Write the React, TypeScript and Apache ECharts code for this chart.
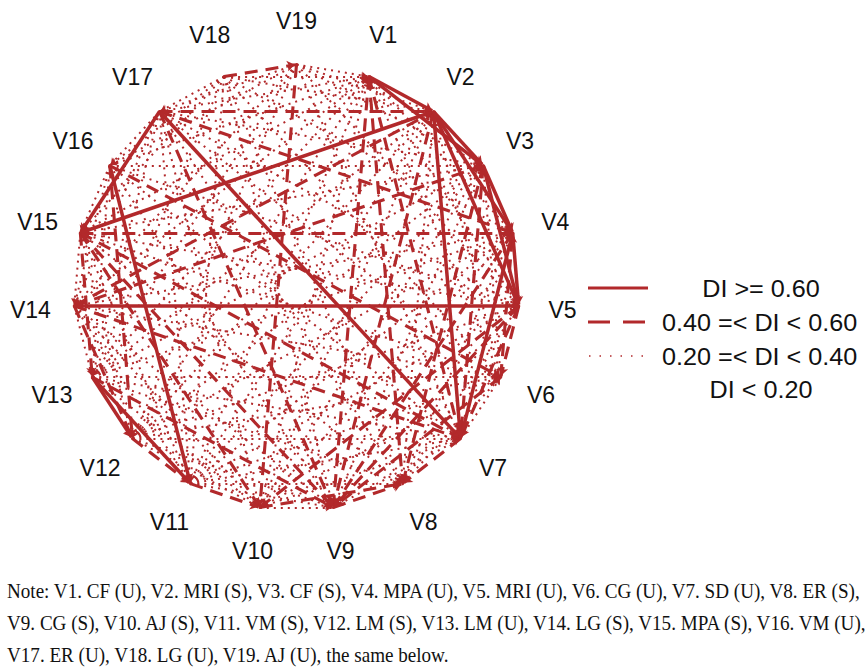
import React, { useEffect, useRef } from "react";
import * as echarts from "echarts";

const nodeNames = [
  "V1", "V2", "V3", "V4", "V5", "V6", "V7", "V8", "V9", "V10",
  "V11", "V12", "V13", "V14", "V15", "V16", "V17", "V18", "V19",
];

// DI >= 0.60
const strongLinks: [string, string, number][] = [
  ["V1", "V2", 0.72], ["V2", "V3", 0.68], ["V2", "V4", 0.75], ["V2", "V5", 0.66],
  ["V3", "V4", 0.7], ["V3", "V5", 0.64], ["V4", "V5", 0.71], ["V2", "V7", 0.65],
  ["V4", "V7", 0.62], ["V5", "V14", 0.63], ["V15", "V2", 0.61], ["V17", "V15", 0.69],
  ["V17", "V7", 0.67], ["V16", "V11", 0.64], ["V13", "V11", 0.73], ["V13", "V12", 0.7],
  ["V1", "V3", 0.62],
];

// 0.40 =< DI < 0.60
const mediumLinks: [string, string, number][] = [
  ["V17", "V2", 0.52], ["V15", "V4", 0.55], ["V18", "V19", 0.48], ["V19", "V10", 0.45],
  ["V14", "V2", 0.5], ["V16", "V6", 0.47], ["V15", "V7", 0.44], ["V14", "V7", 0.46],
  ["V17", "V9", 0.53], ["V17", "V4", 0.49], ["V12", "V11", 0.51], ["V11", "V10", 0.47],
  ["V1", "V8", 0.43], ["V9", "V8", 0.45], ["V7", "V8", 0.5], ["V5", "V9", 0.42],
  ["V4", "V9", 0.48], ["V1", "V9", 0.44], ["V5", "V10", 0.41], ["V15", "V9", 0.46],
  ["V15", "V13", 0.43], ["V16", "V12", 0.45], ["V14", "V12", 0.42], ["V5", "V7", 0.55],
  ["V3", "V7", 0.47], ["V6", "V4", 0.44], ["V1", "V7", 0.42], ["V15", "V10", 0.41],
  ["V3", "V8", 0.43], ["V2", "V9", 0.41], ["V13", "V9", 0.42], ["V10", "V8", 0.44],
  ["V14", "V3", 0.43], ["V6", "V9", 0.45], ["V5", "V6", 0.48],
];

// 0.20 =< DI < 0.40
const weakLinks: [string, string, number][] = [
  ["V19", "V1", 0.3], ["V19", "V2", 0.25], ["V19", "V3", 0.28], ["V19", "V5", 0.22],
  ["V19", "V7", 0.26], ["V19", "V12", 0.24], ["V19", "V14", 0.21], ["V19", "V16", 0.27],
  ["V19", "V17", 0.33], ["V19", "V13", 0.23],
  ["V18", "V1", 0.31], ["V18", "V2", 0.29], ["V18", "V4", 0.25], ["V18", "V6", 0.22],
  ["V18", "V8", 0.24], ["V18", "V11", 0.21], ["V18", "V13", 0.26], ["V18", "V15", 0.28],
  ["V18", "V16", 0.3], ["V18", "V17", 0.34], ["V18", "V9", 0.23],
  ["V17", "V1", 0.27], ["V17", "V3", 0.29], ["V17", "V5", 0.3], ["V17", "V6", 0.25],
  ["V17", "V8", 0.22], ["V17", "V11", 0.26], ["V17", "V13", 0.24], ["V17", "V14", 0.28],
  ["V17", "V16", 0.35], ["V17", "V10", 0.23],
  ["V16", "V1", 0.24], ["V16", "V3", 0.31], ["V16", "V5", 0.26], ["V16", "V7", 0.22],
  ["V16", "V9", 0.25], ["V16", "V13", 0.27], ["V16", "V14", 0.33], ["V16", "V15", 0.36],
  ["V15", "V1", 0.26], ["V15", "V3", 0.3], ["V15", "V5", 0.24], ["V15", "V6", 0.22],
  ["V15", "V8", 0.27], ["V15", "V11", 0.25], ["V15", "V12", 0.29], ["V15", "V14", 0.34],
  ["V14", "V1", 0.23], ["V14", "V4", 0.28], ["V14", "V6", 0.25], ["V14", "V9", 0.3],
  ["V14", "V10", 0.27], ["V14", "V11", 0.26], ["V14", "V13", 0.32],
  ["V13", "V1", 0.22], ["V13", "V2", 0.25], ["V13", "V3", 0.24], ["V13", "V4", 0.27],
  ["V13", "V6", 0.31], ["V13", "V7", 0.26], ["V13", "V8", 0.28], ["V13", "V10", 0.29],
  ["V12", "V1", 0.21], ["V12", "V2", 0.24], ["V12", "V3", 0.23], ["V12", "V4", 0.26],
  ["V12", "V5", 0.25], ["V12", "V6", 0.27], ["V12", "V7", 0.28], ["V12", "V9", 0.3],
  ["V12", "V10", 0.29],
  ["V11", "V1", 0.22], ["V11", "V2", 0.26], ["V11", "V3", 0.24], ["V11", "V4", 0.25],
  ["V11", "V5", 0.27], ["V11", "V6", 0.23], ["V11", "V7", 0.28], ["V11", "V8", 0.3],
  ["V11", "V9", 0.32],
  ["V10", "V1", 0.24], ["V10", "V2", 0.23], ["V10", "V3", 0.25], ["V10", "V4", 0.27],
  ["V10", "V6", 0.26], ["V10", "V7", 0.29], ["V10", "V9", 0.33],
  ["V9", "V3", 0.26], ["V9", "V7", 0.3],
  ["V8", "V2", 0.25], ["V8", "V4", 0.27], ["V8", "V5", 0.29], ["V8", "V6", 0.31],
  ["V7", "V6", 0.34], ["V6", "V1", 0.23], ["V6", "V2", 0.26], ["V6", "V3", 0.28],
  ["V5", "V1", 0.27], ["V4", "V1", 0.3],
];

const legendLabels = ["DI >= 0.60", "0.40 =< DI < 0.60", "0.20 =< DI < 0.40", "DI < 0.20"];

const noteLines = [
  "Note: V1. CF (U), V2. MRI (S), V3. CF (S), V4. MPA (U), V5. MRI (U), V6. CG (U), V7. SD (U), V8. ER (S),",
  "V9. CG (S), V10. AJ (S), V11. VM (S), V12. LM (S), V13. LM (U), V14. LG (S), V15. MPA (S), V16. VM (U),",
  "V17. ER (U), V18. LG (U), V19. AJ (U), the same below.",
];

const RED = "#B2292B";
const SOLID = { color: RED, width: 3.5, type: "solid" as const, opacity: 1, curveness: 0 };
const DASHED = { color: RED, width: 3.1, type: [13, 8], opacity: 1, curveness: 0 };
const DOTTED = { color: RED, width: 2, type: [2, 5], opacity: 1, curveness: 0 };

export default function App() {
  const ref = useRef<HTMLDivElement>(null);

  useEffect(() => {
    const chart = echarts.init(ref.current!, null, { renderer: "svg" });
    const n = nodeNames.length;
    const labelDist = 44;
    const nodes = nodeNames.map((name, i) => {
      const ang = Math.PI / 2 - ((i + 1) * 2 * Math.PI) / n;
      const c = Math.cos(ang);
      const s = Math.sin(ang);
      return {
        name,
        value: [c, s],
        label: { offset: [labelDist * c, -labelDist * s] },
      };
    });

    const seen = new Set<string>();
    const links: any[] = [];
    const add = (arr: [string, string, number][], style: any, size: number) => {
      arr.forEach(([a, b, v]) => {
        const key = [a, b].sort().join("-");
        if (seen.has(key)) return;
        seen.add(key);
        links.push({ source: a, target: b, value: v, lineStyle: style, symbolSize: size });
      });
    };
    add(strongLinks, SOLID, 8);
    add(mediumLinks, DASHED, 8);
    add(weakLinks, DOTTED, 6);
    links.reverse();

    const legendY = [288, 322, 356, 389];
    const graphic: any[] = [
      { type: "line", shape: { x1: 588, y1: legendY[0], x2: 648, y2: legendY[0] }, style: { stroke: RED, lineWidth: 3 } },
      { type: "line", shape: { x1: 588, y1: legendY[1], x2: 648, y2: legendY[1] }, style: { stroke: RED, lineWidth: 3, lineDash: [22, 13] } },
      { type: "line", shape: { x1: 589, y1: legendY[2], x2: 648, y2: legendY[2] }, style: { stroke: RED, lineWidth: 1.5, lineDash: [1.5, 9] } },
    ];
    legendLabels.forEach((t, i) => {
      const centered = i === 0 || i === 3;
      graphic.push({
        type: "text",
        x: centered ? 761 : 662,
        y: legendY[i] + 1,
        scaleX: 1.05,
        style: {
          text: t,
          font: "24px 'Liberation Sans', Arial, sans-serif",
          fill: "#111",
          align: centered ? "center" : "left",
          textAlign: centered ? "center" : "left",
          verticalAlign: "middle",
          textVerticalAlign: "middle",
        },
      });
    });
    noteLines.forEach((t, i) => {
      graphic.push({
        type: "text",
        x: 7,
        y: 591 + i * 32,
        scaleX: 0.91,
        style: {
          text: t,
          font: "21px 'Liberation Serif', 'Times New Roman', serif",
          fill: "#111",
          align: "left",
          textAlign: "left",
          verticalAlign: "middle",
          textVerticalAlign: "middle",
        },
      });
    });

    chart.setOption({
      animation: false,
      backgroundColor: "#fff",
      grid: { left: 17.75, top: 8.75, width: 557.5, height: 557.5, show: false },
      xAxis: { type: "value", min: -1.25, max: 1.25, show: false },
      yAxis: { type: "value", min: -1.25, max: 1.25, show: false },
      series: [
        {
          type: "graph",
          coordinateSystem: "cartesian2d",
          layout: "none",
          symbol: "circle",
          symbolSize: 3,
          itemStyle: { color: RED },
          edgeSymbol: ["none", "arrow"],
          edgeSymbolSize: 7,
          label: {
            show: true,
            position: "inside",
            color: "#111",
            fontSize: 23,
            fontFamily: "'Liberation Sans', Arial, sans-serif",
            align: "center",
            verticalAlign: "middle",
          },
          emphasis: { disabled: true },
          data: nodes,
          links,
        },
      ],
      graphic,
    });
    return () => chart.dispose();
  }, []);

  return (
    <div
      ref={ref}
      style={{ position: "absolute", left: 0, top: 0, width: 865, height: 668 }}
    />
  );
}
